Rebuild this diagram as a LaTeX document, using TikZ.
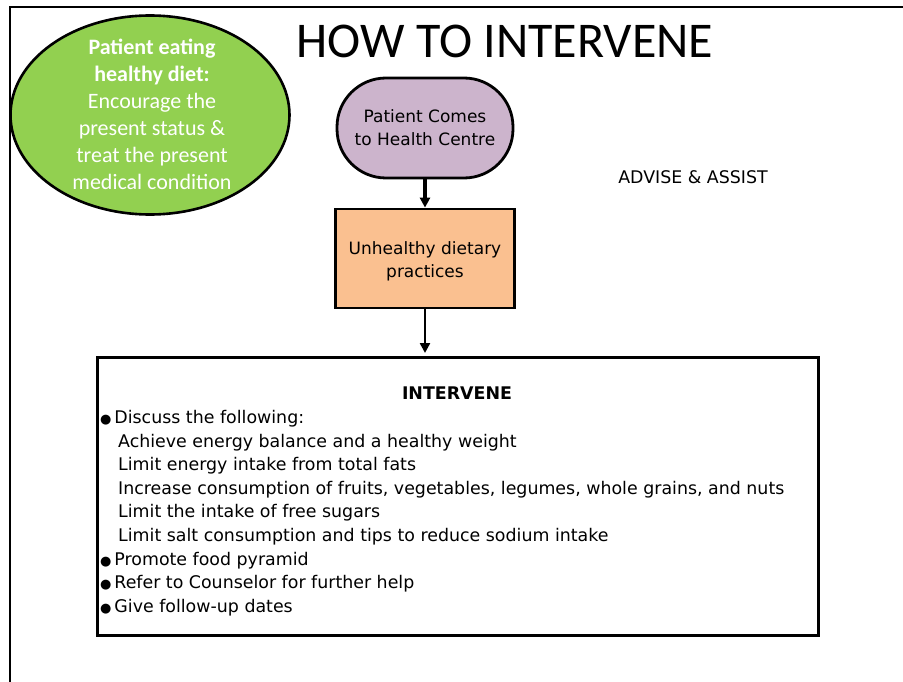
\documentclass[tikz,border=0pt]{standalone}
\usepackage{fontspec}
\setmainfont{DejaVu Sans}
\newfontfamily\carl{Carlito}
\newfontfamily\dvs{DejaVu Sans}
\usetikzlibrary{shapes.geometric,arrows.meta}
\definecolor{grn}{HTML}{92D050}
\definecolor{lilac}{HTML}{CCB4CC}
\definecolor{peach}{HTML}{FAC090}
\newcommand\bulmark{{\dvs\fontsize{13}{13}\selectfont●}\,}
\tikzset{
  x=1pt,y=-1pt,
  flowbox/.style={draw=black,line width=2.8pt,align=center,font=\dvs\fontsize{17}{23}\selectfont},
  listline/.style={anchor=base west,inner sep=0pt,font=\dvs\fontsize{17.4}{20}\selectfont},
  conn/.style={draw=black,-{Triangle[length=10pt,width=10pt]}},
}
\begin{document}
\begin{tikzpicture}
\useasboundingbox (0,0) rectangle (903,682);
\fill[white] (0,0) rectangle (903,682);
% frame
\draw[line width=2.8pt] (10,682) -- (10,7) -- (903,7);
% ellipse
\node[ellipse,draw=black,line width=2.6pt,fill=grn,minimum width=279pt,minimum height=199pt,inner sep=0pt] (ell) at (150,115) {};
\node[align=center,text=white,font=\carl\fontsize{22}{27}\selectfont,inner sep=0pt] (elltxt) at (152,114) {\textbf{Patient eating}\\\textbf{healthy diet:}\\Encourage the\\present status \&\\treat the present\\medical condition};
% title
\node[font=\carl\fontsize{50}{54}\selectfont,anchor=base,inner sep=0pt] (title) at (505,58) {HOW TO INTERVENE};
% boxes
\node[flowbox,fill=lilac,rounded corners=49pt,minimum width=176pt,minimum height=100pt] (come) at (425,128) {Patient Comes\\to Health Centre};
\node[flowbox,fill=peach,minimum width=179pt,minimum height=99pt] (unh) at (425,258.5) {};
\node[align=center,font=\dvs\fontsize{17}{23}\selectfont] (unhtxt) at (425,261.5) {Unhealthy dietary\\practices};
\node[font=\dvs\fontsize{17.4}{20}\selectfont,anchor=base,inner sep=0pt] (adv) at (693,184) {ADVISE \& ASSIST};
\coordinate (bigtip) at (425,353);
\draw[conn,line width=3.6pt] (come.south) -- (unh.north);
\draw[conn,line width=2.4pt] (unh.south) -- (bigtip);
% intervene box
\node[draw=black,line width=3pt,minimum width=721pt,minimum height=278pt,inner sep=0pt] (big) at (457.5,496) {};
\node[font=\dvs\bfseries\fontsize{17.4}{20}\selectfont,anchor=base,inner sep=0pt] (hd) at (457,399) {INTERVENE};
\node[listline] (l1) at (100,423) {\bulmark Discuss the following:};
\node[listline] (l2) at (118,447) {Achieve energy balance and a healthy weight};
\node[listline] (l3) at (118,470) {Limit energy intake from total fats};
\node[listline] (l4) at (118,494) {Increase consumption of fruits, vegetables, legumes, whole grains, and nuts};
\node[listline] (l5) at (118,517) {Limit the intake of free sugars};
\node[listline] (l6) at (118,541) {Limit salt consumption and tips to reduce sodium intake};
\node[listline] (l7) at (100,565) {\bulmark Promote food pyramid};
\node[listline] (l8) at (100,588) {\bulmark Refer to Counselor for further help};
\node[listline] (l9) at (100,612) {\bulmark Give follow-up dates};
\end{tikzpicture}
\end{document}
